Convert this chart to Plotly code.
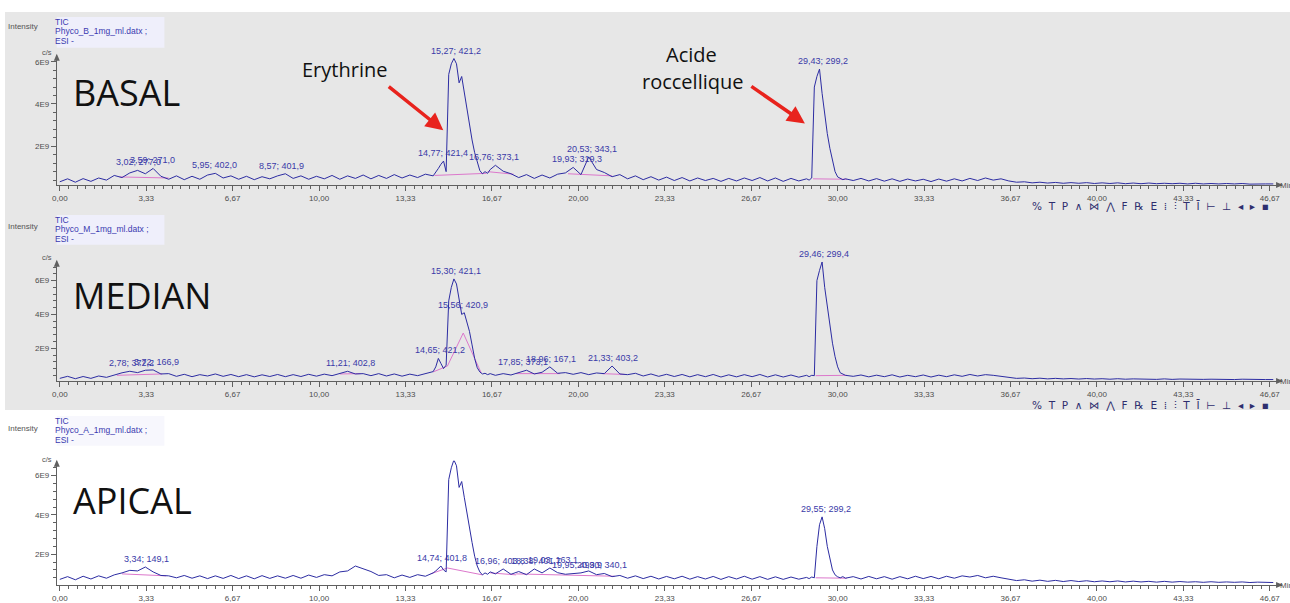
import numpy as np
import plotly.graph_objects as go

W, H = 1290, 603

# ---------------- DATA (intensity in units of 1E9 c/s) ----------------
times = [0.0, 0.3, 0.6, 0.9, 1.2, 1.5, 1.8, 2.1, 2.4, 2.7, 3.0, 3.3, 3.6, 3.9, 4.2, 4.5, 4.8, 5.1, 5.4, 5.7,
         6.0, 6.3, 6.6, 6.9, 7.2, 7.5, 7.8, 8.1, 8.4, 8.7, 9.0, 9.3, 9.6, 9.9, 10.2, 10.5, 10.8, 11.1, 11.4, 11.7,
         12.0, 12.3, 12.6, 12.9, 13.2, 13.5, 13.8, 14.1, 14.4,
         14.5, 14.6, 14.7, 14.8, 14.9, 15.0, 15.1, 15.2, 15.3, 15.4, 15.5, 15.6, 15.7, 15.8, 15.9, 16.0, 16.1,
         16.2, 16.3, 16.4, 16.5, 16.6,
         16.8, 17.1, 17.4, 17.7, 18.0, 18.3, 18.6, 18.9, 19.2, 19.5, 19.8, 20.1, 20.4, 20.7, 21.0, 21.3, 21.6,
         21.9, 22.2, 22.5, 22.8, 23.1, 23.4, 23.7, 24.0, 24.3, 24.6, 24.9, 25.2, 25.5, 25.8, 26.1, 26.4, 26.7,
         27.0, 27.3, 27.6, 27.9, 28.2, 28.5, 28.8,
         28.9, 29.0, 29.1, 29.2, 29.3, 29.4, 29.5, 29.6, 29.7, 29.8, 29.9, 30.0, 30.1, 30.2, 30.3,
         30.6, 30.9, 31.2, 31.5, 31.8, 32.1, 32.4, 32.7, 33.0, 33.3, 33.6, 33.9, 34.2, 34.5, 34.8, 35.1, 35.4,
         35.7, 36.0, 36.3, 36.6, 36.9, 37.2, 37.5, 37.8, 38.1, 38.4, 38.7, 39.0, 39.3, 39.6, 39.9, 40.2, 40.5,
         40.8, 41.1, 41.4, 41.7, 42.0, 42.3, 42.6, 42.9, 43.2, 43.5, 43.8, 44.1, 44.4, 44.7, 45.0, 45.3, 45.6,
         45.9, 46.2, 46.5, 46.8]

basal = [0.32, 0.46, 0.30, 0.47, 0.34, 0.50, 0.40, 0.62, 0.52, 0.74,
         0.86, 0.70, 0.95, 0.58, 0.44, 0.60, 0.42, 0.58, 0.44, 0.64,
         0.72, 0.50, 0.60, 0.44, 0.58, 0.42, 0.56, 0.46, 0.60, 0.70,
         0.48, 0.60, 0.44, 0.58, 0.46, 0.62, 0.44, 0.60, 0.48, 0.64,
         0.46, 0.62, 0.48, 0.66, 0.50, 0.64, 0.52, 0.68, 0.60,
         0.75, 0.95, 1.15, 1.30, 0.80, 5.40, 5.90, 6.15, 5.90, 5.00, 5.30, 4.50, 3.90, 3.00, 2.30, 1.70, 1.20,
         0.85, 0.70, 0.80, 0.72, 0.90,
         1.10, 0.82, 0.70, 0.52, 0.66, 0.48, 0.64, 0.50, 0.68, 0.74,
         1.00, 0.66, 1.50, 0.90, 0.76, 0.56, 0.66, 0.46, 0.60, 0.42,
         0.56, 0.40, 0.54, 0.38, 0.52, 0.36, 0.50, 0.38, 0.48, 0.34,
         0.48, 0.36, 0.50, 0.38, 0.52, 0.36, 0.50, 0.34, 0.48, 0.36,
         0.46,
         0.40, 0.50, 4.80, 5.30, 5.65, 4.50, 3.40, 2.60, 1.90, 1.30, 0.80, 0.55, 0.48, 0.42, 0.46,
         0.38, 0.48, 0.36, 0.47, 0.35, 0.46, 0.34, 0.45, 0.36, 0.44,
         0.33, 0.45, 0.35, 0.46, 0.36, 0.48, 0.38, 0.50, 0.40, 0.46,
         0.36, 0.30, 0.32, 0.27, 0.30, 0.26, 0.29, 0.25, 0.28, 0.25,
         0.28, 0.24, 0.27, 0.24, 0.27, 0.23, 0.26, 0.23, 0.26, 0.23,
         0.25, 0.23, 0.25, 0.22, 0.25, 0.22, 0.24, 0.22, 0.24, 0.22,
         0.24, 0.21, 0.23, 0.22, 0.22]

median = [0.22, 0.34, 0.20, 0.33, 0.22, 0.36, 0.28, 0.42, 0.55, 0.64,
          0.56, 0.70, 0.72, 0.48, 0.50, 0.34, 0.46, 0.32, 0.44, 0.36,
          0.48, 0.34, 0.45, 0.32, 0.44, 0.31, 0.43, 0.33, 0.45, 0.32,
          0.44, 0.33, 0.46, 0.35, 0.47, 0.38, 0.52, 0.64, 0.48, 0.50,
          0.38, 0.50, 0.36, 0.48, 0.35, 0.47, 0.38, 0.50, 0.62,
          0.90, 1.40, 1.10, 0.80, 1.00, 4.80, 5.60, 6.10, 5.80, 4.90, 4.00, 4.10, 3.60, 3.00, 2.20, 1.40, 0.85,
          0.60, 0.48, 0.52, 0.44, 0.50,
          0.40, 0.50, 0.42, 0.58, 0.70, 0.48, 0.58, 0.90, 0.52, 0.56,
          0.46, 0.56, 0.44, 0.54, 0.50, 0.95, 0.48, 0.44, 0.52, 0.36,
          0.48, 0.34, 0.46, 0.33, 0.45, 0.31, 0.44, 0.32, 0.45, 0.30,
          0.43, 0.31, 0.44, 0.32, 0.45, 0.30, 0.43, 0.30, 0.42, 0.29,
          0.40,
          0.32, 0.40, 0.38, 6.00, 6.60, 7.10, 5.60, 4.40, 3.20, 2.30, 1.50, 0.90, 0.55, 0.45, 0.40,
          0.34, 0.42, 0.31, 0.41, 0.32, 0.43, 0.30, 0.40, 0.32, 0.42,
          0.30, 0.41, 0.32, 0.43, 0.34, 0.45, 0.36, 0.44, 0.40, 0.34,
          0.27, 0.22, 0.24, 0.20, 0.23, 0.19, 0.22, 0.19, 0.21, 0.18,
          0.21, 0.18, 0.20, 0.17, 0.20, 0.17, 0.19, 0.17, 0.19, 0.16,
          0.19, 0.16, 0.18, 0.16, 0.18, 0.16, 0.17, 0.15, 0.17, 0.15,
          0.17, 0.15, 0.16, 0.15, 0.15]

apical = [0.72, 0.86, 0.70, 0.88, 0.74, 0.90, 0.78, 0.95, 1.05, 1.18,
          1.15, 1.35, 1.10, 0.92, 0.90, 0.80, 0.92, 0.78, 0.90, 0.76,
          0.90, 0.77, 0.92, 0.76, 0.90, 0.75, 0.91, 0.77, 0.90, 0.78,
          0.92, 0.78, 0.94, 0.82, 0.96, 0.90, 1.10, 1.15, 1.40, 1.25,
          1.12, 0.92, 0.96, 0.80, 0.94, 0.82, 0.96, 0.88, 1.05,
          1.15, 1.30, 1.40, 1.20, 1.10, 5.80, 6.40, 6.80, 6.50, 5.40, 5.70, 4.90, 4.20, 3.50, 2.60, 1.90, 1.40,
          1.10, 0.95, 1.05, 0.98, 1.10,
          1.00, 1.25, 0.98, 1.12, 0.96, 1.25, 1.05, 1.30, 1.06, 0.98,
          1.00, 1.05, 1.15, 0.96, 1.02, 0.86, 0.92, 0.78, 0.90, 0.76,
          0.88, 0.74, 0.87, 0.75, 0.88, 0.73, 0.86, 0.74, 0.87, 0.72,
          0.86, 0.74, 0.88, 0.73, 0.86, 0.72, 0.85, 0.72, 0.84, 0.73,
          0.82,
          0.76, 0.84, 0.80, 2.40, 3.50, 3.90, 3.30, 2.40, 1.70, 1.20, 0.95, 0.85, 0.80, 0.86, 0.78,
          0.86, 0.74, 0.87, 0.75, 0.86, 0.73, 0.86, 0.75, 0.88, 0.76,
          0.87, 0.75, 0.88, 0.78, 0.90, 0.84, 0.92, 0.80, 0.88, 0.80,
          0.74, 0.66, 0.70, 0.63, 0.68, 0.62, 0.67, 0.61, 0.66, 0.61,
          0.65, 0.60, 0.64, 0.60, 0.64, 0.59, 0.63, 0.59, 0.62, 0.58,
          0.62, 0.58, 0.61, 0.58, 0.60, 0.57, 0.60, 0.57, 0.59, 0.57,
          0.59, 0.56, 0.58, 0.56, 0.56]

# peak annotations (retention time; m/z)
basal_peak_times = [3.02, 3.59, 5.95, 8.57, 14.77, 15.27, 16.76, 19.93, 20.53, 29.43]
basal_peak_text = ["3,02; 277,0", "3,59; 271,0", "5,95; 402,0", "8,57; 401,9", "14,77; 421,4",
                   "15,27; 421,2", "16,76; 373,1", "19,93; 319,3", "20,53; 343,1", "29,43; 299,2"]
median_peak_times = [2.78, 3.72, 11.21, 14.65, 15.30, 15.56, 17.85, 18.96, 21.33, 29.46]
median_peak_text = ["2,78; 372,2", "3,72; 166,9", "11,21; 402,8", "14,65; 421,2", "15,30; 421,1",
                    "15,56; 420,9", "17,85; 373,1", "18,96; 167,1", "21,33; 403,2", "29,46; 299,4"]
apical_peak_times = [3.34, 14.74, 15.33, 16.96, 18.38, 19.03, 19.95, 20.90, 29.55]
apical_peak_text = ["3,34; 149,1", "14,74; 401,8", "15,33; 421,0", "16,96; 403,8", "18,38; 401,7",
                    "19,03; 163,1", "19,95; 493,9", "20,90; 340,1", "29,55; 299,2"]

# integration baselines: (t_start, t_end, v_start, v_end)
basal_integr = [(2.3, 4.2, 0.55, 0.50), (14.45, 16.45, 0.62, 0.72), (16.5, 17.5, 0.80, 0.68),
                (19.6, 21.3, 0.70, 0.60), (29.05, 30.35, 0.46, 0.44)]
median_integr = [(2.2, 3.95, 0.40, 0.48), (10.8, 11.6, 0.48, 0.50), (14.4, 14.95, 0.60, 0.95),
                 (14.95, 15.56, 0.95, 2.90), (15.56, 16.25, 2.90, 0.55), (17.6, 19.3, 0.50, 0.50),
                 (20.9, 21.8, 0.50, 0.45), (29.15, 30.35, 0.38, 0.40)]
apical_integr = [(2.4, 4.1, 1.00, 0.90), (14.3, 14.95, 1.00, 1.30), (14.95, 16.3, 1.30, 0.95),
                 (16.6, 17.6, 1.05, 0.95), (17.6, 21.4, 1.00, 0.88), (29.15, 30.35, 0.80, 0.78)]

x_tickvals = [0, 10/3, 20/3, 10, 40/3, 50/3, 20, 70/3, 80/3, 30, 100/3, 110/3, 40, 130/3, 140/3]
x_ticktext = ["0,00", "3,33", "6,67", "10,00", "13,33", "16,67", "20,00", "23,33", "26,67", "30,00",
              "33,33", "36,67", "40,00", "43,33", "46,67"]
y_tickvals = [2, 4, 6]
y_ticktext = ["2E9", "4E9", "6E9"]
toolbar_glyphs = ["%", "T", "P", "∧", "⋈", "⋀", "F", "℞", "E", "⁞", "⫶", "T", "Ī", "⊢", "⊥", "◂", "▸", "▪"]

for arr in (basal, median, apical):
    if len(arr) != len(times):
        raise ValueError("length mismatch %d vs %d" % (len(arr), len(times)))

# ---------------- LAYOUT helpers ----------------
def px(x):
    return x / W

def py(y):
    return 1 - y / H

LPAD = 7  # plotly offsets left-anchored annotation text by a few pixels
X0_PX, XZ_PX, X1_PX, PPM = 52, 55, 1282, 26.03
x_range = [(X0_PX - XZ_PX) / PPM, (X1_PX - XZ_PX) / PPM]

panels = [
    dict(title="BASAL", file="Phyco_B_1mg_ml.datx ;", vals=basal, pt=basal_peak_times, ptxt=basal_peak_text,
         integ=basal_integr, top=55, bottom=186, zero=189.5, ppu=21.25,
         tic=22, box=(17, 48), inten=27, cs=53, big=93, boxcol="#efeffb"),
    dict(title="MEDIAN", file="Phyco_M_1mg_ml.datx ;", vals=median, pt=median_peak_times, ptxt=median_peak_text,
         integ=median_integr, top=262, bottom=383, zero=384, ppu=17.0,
         tic=221, box=(216, 246), inten=228, cs=259, big=297, boxcol="#efeffb"),
    dict(title="APICAL", file="Phyco_A_1mg_ml.datx ;", vals=apical, pt=apical_peak_times, ptxt=apical_peak_text,
         integ=apical_integr, top=463, bottom=588, zero=596.5, ppu=19.75,
         tic=423, box=(418, 448), inten=431, cs=462, big=503, boxcol="#f7f7fd"),
]

LINE_BLUE = "#2c2ca2"
PINK = "#dc78cc"
LABEL_BLUE = "#3a3aa8"
AXIS = "#606060"
TICKFONT = dict(family="Liberation Sans, Arial, sans-serif", size=8, color="#4d4d4d")

fig = go.Figure()
annotations = []
shapes = []

shapes.append(dict(type="rect", xref="paper", yref="paper", x0=0, x1=1, y0=py(412), y1=py(12),
                   fillcolor="#e7e7e7", line=dict(width=0), layer="below"))

t_arr = np.array(times)
for i, p in enumerate(panels):
    n = "" if i == 0 else str(i + 1)
    xa, ya = "x" + n, "y" + n
    v_arr = np.array(p["vals"])
    yr = [(p["zero"] - p["bottom"]) / p["ppu"], (p["zero"] - p["top"]) / p["ppu"]]

    for (t0, t1, v0, v1) in p["integ"]:
        fig.add_trace(go.Scatter(x=[t0, t1], y=[v0, v1], mode="lines", xaxis=xa, yaxis=ya,
                                 line=dict(color=PINK, width=1), showlegend=False, hoverinfo="skip"))
    fig.add_trace(go.Scatter(x=times, y=p["vals"], mode="lines", xaxis=xa, yaxis=ya,
                             line=dict(color=LINE_BLUE, width=1), showlegend=False))

    fig.layout["xaxis" + n] = dict(
        domain=[px(X0_PX), px(X1_PX)], range=x_range, anchor=ya, showgrid=False, zeroline=False,
        showline=True, linecolor=AXIS, linewidth=1, ticks="outside", ticklen=5, tickcolor=AXIS,
        tickmode="array", tickvals=x_tickvals, ticktext=x_ticktext, tickfont=TICKFONT,
        minor=dict(tickmode="array", tickvals=[k / 3 for k in range(0, 141)], ticks="outside",
                   ticklen=3, tickcolor=AXIS, showgrid=False),
        fixedrange=True)
    fig.layout["yaxis" + n] = dict(
        domain=[py(p["bottom"]), py(p["top"])], range=yr, anchor=xa, showgrid=False, zeroline=False,
        showline=True, linecolor=AXIS, linewidth=1, ticks="outside", ticklen=5, tickcolor=AXIS,
        tickmode="array", tickvals=y_tickvals, ticktext=y_ticktext, tickfont=TICKFONT,
        minor=dict(tickmode="array", tickvals=[0.4 * k for k in range(1, 19)], ticks="outside",
                   ticklen=3, tickcolor=AXIS, showgrid=False),
        fixedrange=True)

    for t, txt in zip(p["pt"], p["ptxt"]):
        mask = np.abs(t_arr - t) <= 0.155
        yv = float(v_arr[mask].max()) if mask.any() else float(np.interp(t, t_arr, v_arr))
        annotations.append(dict(x=t, y=yv, xref=xa, yref=ya, text=txt, showarrow=False,
                                yanchor="bottom", yshift=1,
                                font=dict(family="Liberation Sans, Arial", size=9, color=LABEL_BLUE)))

    shapes.append(dict(type="rect", xref="paper", yref="paper", x0=px(52), x1=px(160),
                       y0=py(p["box"][1]), y1=py(p["box"][0]), fillcolor=p["boxcol"],
                       line=dict(width=0), layer="below"))
    hdr_font = dict(family="Liberation Sans, Arial", size=8.5, color="#3a3ab0")
    for k, line in enumerate(["TIC", p["file"], "ESI -"]):
        annotations.append(dict(x=px(55 - LPAD), y=py(p["tic"] + 9.5 * k), xref="paper", yref="paper",
                                text=line, showarrow=False, xanchor="left", yanchor="middle", font=hdr_font))
    annotations.append(dict(x=px(8 - LPAD), y=py(p["inten"]), xref="paper", yref="paper", text="Intensity",
                            showarrow=False, xanchor="left", yanchor="middle",
                            font=dict(family="Liberation Sans, Arial", size=8, color="#555555")))
    annotations.append(dict(x=px(42), y=py(p["cs"]), xref="paper", yref="paper", text="c/s",
                            showarrow=False, xanchor="center", yanchor="middle",
                            font=dict(family="Liberation Sans, Arial", size=7.5, color="#555555")))
    annotations.append(dict(x=px(1285 - LPAD), y=py(p["bottom"]), xref="paper", yref="paper", text="Min",
                            showarrow=False, xanchor="left", yanchor="middle",
                            font=dict(family="Liberation Sans, Arial", size=8, color="#555555")))
    annotations.append(dict(x=px(73 - LPAD), y=py(p["big"]), xref="paper", yref="paper", text=p["title"],
                            showarrow=False, xanchor="left", yanchor="middle",
                            font=dict(family="Open Sans, sans-serif", size=36, color="#111111")))
    xt, yt = X0_PX, p["top"]
    shapes.append(dict(type="path", xref="paper", yref="paper", line=dict(width=0), fillcolor=AXIS,
                       path="M %f,%f L %f,%f L %f,%f Z" % (px(xt - 3), py(yt + 6), px(xt + 3), py(yt + 6),
                                                          px(xt), py(yt - 1))))
    yb = p["bottom"]
    shapes.append(dict(type="path", xref="paper", yref="paper", line=dict(width=0), fillcolor=AXIS,
                       path="M %f,%f L %f,%f L %f,%f Z" % (px(X1_PX - 6), py(yb - 3), px(X1_PX - 6),
                                                          py(yb + 3), px(X1_PX + 1), py(yb))))

for ty in (208, 408):
    annotations.append(dict(x=px(1036 - LPAD), y=py(ty), xref="paper", yref="paper",
                            text="\u00a0\u00a0".join(toolbar_glyphs), showarrow=False,
                            xanchor="left", yanchor="middle",
                            font=dict(family="DejaVu Sans", size=10.5, color="#2e2e6e")))

callout_font = dict(family="Open Sans, sans-serif", size=20, color="#111111")
annotations.append(dict(x=px(341), y=py(70), xref="paper", yref="paper", text="Erythrine",
                        showarrow=False, xanchor="center", yanchor="middle", font=callout_font))
annotations.append(dict(x=px(689), y=py(55), xref="paper", yref="paper", text="Acide",
                        showarrow=False, xanchor="center", yanchor="middle", font=callout_font))
annotations.append(dict(x=px(690), y=py(82), xref="paper", yref="paper", text="roccellique",
                        showarrow=False, xanchor="center", yanchor="middle", font=callout_font))
for (hx, hy, tx, ty) in [(440, 131, 384, 86), (803, 124, 748, 86)]:
    annotations.append(dict(x=px(hx), y=py(hy), xref="paper", yref="paper", text="", showarrow=True,
                            ax=tx - hx, ay=ty - hy, axref="pixel", ayref="pixel", arrowhead=2,
                            arrowsize=1, arrowwidth=3.5, arrowcolor="#e8231d"))

fig.update_layout(
    width=W, height=H, margin=dict(l=0, r=0, t=0, b=0),
    paper_bgcolor="white", plot_bgcolor="rgba(0,0,0,0)",
    showlegend=False, annotations=annotations, shapes=shapes,
)

fig.write_html("out.html", config={"displayModeBar": False},
               post_script="document.body.style.margin='0';document.body.style.overflow='hidden';")
